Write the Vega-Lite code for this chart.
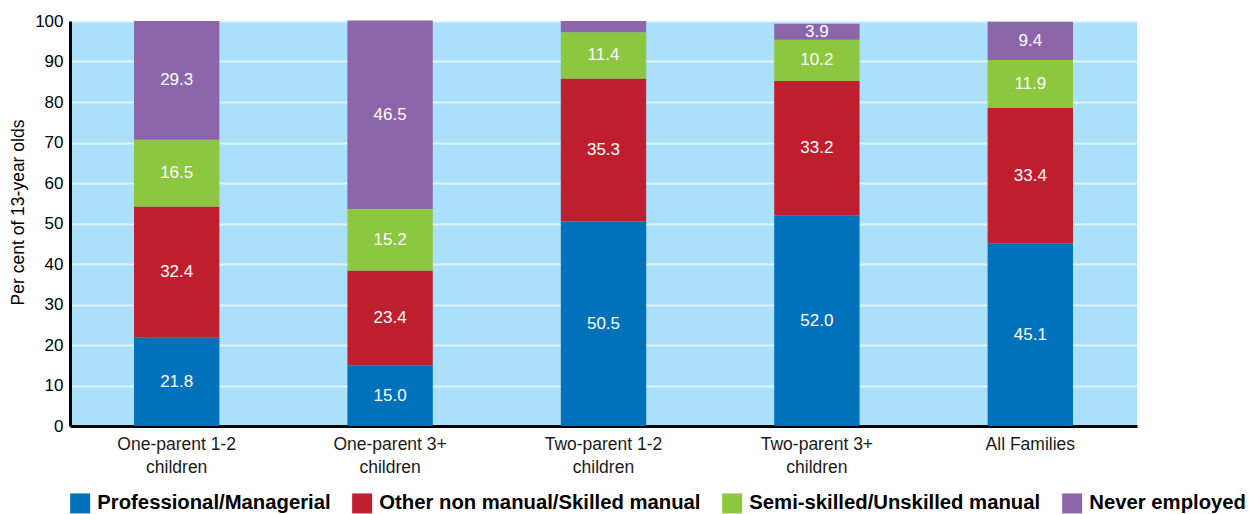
{
  "$schema": "https://vega.github.io/schema/vega-lite/v6.json",
  "width": 1067,
  "height": 405,
  "autosize": {"type": "none"},
  "padding": {"left": 70, "top": 21, "right": 112, "bottom": 88},
  "background": "white",
  "config": {
    "view": {"fill": "#aae0fa", "stroke": null},
    "font": "Liberation Sans"
  },
  "data": {
    "values": [
      {"group": "One-parent 1-2 children", "series": "Professional/Managerial", "s": 1, "value": 21.8},
      {"group": "One-parent 1-2 children", "series": "Other non manual/Skilled manual", "s": 2, "value": 32.4},
      {"group": "One-parent 1-2 children", "series": "Semi-skilled/Unskilled manual", "s": 3, "value": 16.5},
      {"group": "One-parent 1-2 children", "series": "Never employed", "s": 4, "value": 29.3},
      {"group": "One-parent 3+ children", "series": "Professional/Managerial", "s": 1, "value": 15.0},
      {"group": "One-parent 3+ children", "series": "Other non manual/Skilled manual", "s": 2, "value": 23.4},
      {"group": "One-parent 3+ children", "series": "Semi-skilled/Unskilled manual", "s": 3, "value": 15.2},
      {"group": "One-parent 3+ children", "series": "Never employed", "s": 4, "value": 46.5},
      {"group": "Two-parent 1-2 children", "series": "Professional/Managerial", "s": 1, "value": 50.5},
      {"group": "Two-parent 1-2 children", "series": "Other non manual/Skilled manual", "s": 2, "value": 35.3},
      {"group": "Two-parent 1-2 children", "series": "Semi-skilled/Unskilled manual", "s": 3, "value": 11.4},
      {"group": "Two-parent 1-2 children", "series": "Never employed", "s": 4, "value": 2.8},
      {"group": "Two-parent 3+ children", "series": "Professional/Managerial", "s": 1, "value": 52.0},
      {"group": "Two-parent 3+ children", "series": "Other non manual/Skilled manual", "s": 2, "value": 33.2},
      {"group": "Two-parent 3+ children", "series": "Semi-skilled/Unskilled manual", "s": 3, "value": 10.2},
      {"group": "Two-parent 3+ children", "series": "Never employed", "s": 4, "value": 3.9},
      {"group": "All Families", "series": "Professional/Managerial", "s": 1, "value": 45.1},
      {"group": "All Families", "series": "Other non manual/Skilled manual", "s": 2, "value": 33.4},
      {"group": "All Families", "series": "Semi-skilled/Unskilled manual", "s": 3, "value": 11.9},
      {"group": "All Families", "series": "Never employed", "s": 4, "value": 9.4}
    ]
  },
  "transform": [
    {"stack": "value", "groupby": ["group"], "sort": [{"field": "s", "order": "ascending"}], "as": ["v0", "v1"]}
  ],
  "encoding": {
    "x": {
      "field": "group",
      "type": "nominal",
      "sort": null,
      "scale": {"paddingInner": 0.6, "paddingOuter": 0.3},
      "axis": {
        "title": null,
        "labelAngle": 0,
        "labelFontSize": 17.5,
        "labelColor": "#1a1a1a",
        "labelPadding": 9,
        "labelLineHeight": 23,
        "labelBaseline": "top",
        "labelLimit": 300,
        "labelExpr": "indexof(datum.label, ' children') > 0 ? [replace(datum.label, ' children', ''), 'children'] : datum.label",
        "ticks": false,
        "domainColor": "black",
        "domainWidth": 3,
        "grid": false
      }
    }
  },
  "layer": [
    {
      "mark": {"type": "bar"},
      "encoding": {
        "y": {
          "field": "v1",
          "type": "quantitative",
          "scale": {"domain": [0, 100], "nice": false},
          "axis": {
            "title": "Per cent of 13-year olds",
            "titleFontSize": 17.5,
            "titleFontWeight": "normal",
            "titleColor": "black",
            "titleX": -52,
            "titleY": 191,
            "titleAlign": "center",
            "titleBaseline": "middle",
            "titleAngle": -90,
            "values": [0, 10, 20, 30, 40, 50, 60, 70, 80, 90, 100],
            "labelFontSize": 17,
            "labelColor": "black",
            "labelPadding": 7,
            "ticks": false,
            "domainColor": "black",
            "domainWidth": 3,
            "grid": true,
            "gridColor": "white",
            "gridOpacity": 0.6,
            "gridWidth": 2
          }
        },
        "y2": {"field": "v0"},
        "color": {
          "field": "series",
          "type": "nominal",
          "sort": ["Professional/Managerial", "Other non manual/Skilled manual", "Semi-skilled/Unskilled manual", "Never employed"],
          "scale": {
            "domain": ["Professional/Managerial", "Other non manual/Skilled manual", "Semi-skilled/Unskilled manual", "Never employed"],
            "range": ["#0071bb", "#bf1e2e", "#8dc63f", "#8c65aa"]
          },
          "legend": {
            "title": null,
            "orient": "none",
            "direction": "horizontal",
            "columns": 4,
            "legendX": 0,
            "legendY": 472,
            "symbolType": "square",
            "symbolSize": 400,
            "symbolStrokeWidth": 0,
            "symbolOpacity": 1,
            "labelFontSize": 20.3,
            "labelFontWeight": "bold",
            "labelColor": "black",
            "labelOffset": 7,
            "labelLimit": 400,
            "columnPadding": 21
          }
        }
      }
    },
    {
      "transform": [
        {"filter": "datum.value >= 3.5"},
        {"fold": ["v0", "v1"], "as": ["k", "pos"]},
        {"aggregate": [{"op": "mean", "field": "pos", "as": "mid"}], "groupby": ["group", "series", "value"]}
      ],
      "mark": {"type": "text", "color": "white", "fontSize": 17, "baseline": "middle", "align": "center"},
      "encoding": {
        "y": {"field": "mid", "type": "quantitative"},
        "text": {"field": "value", "type": "quantitative", "format": ".1f"}
      }
    }
  ]
}
